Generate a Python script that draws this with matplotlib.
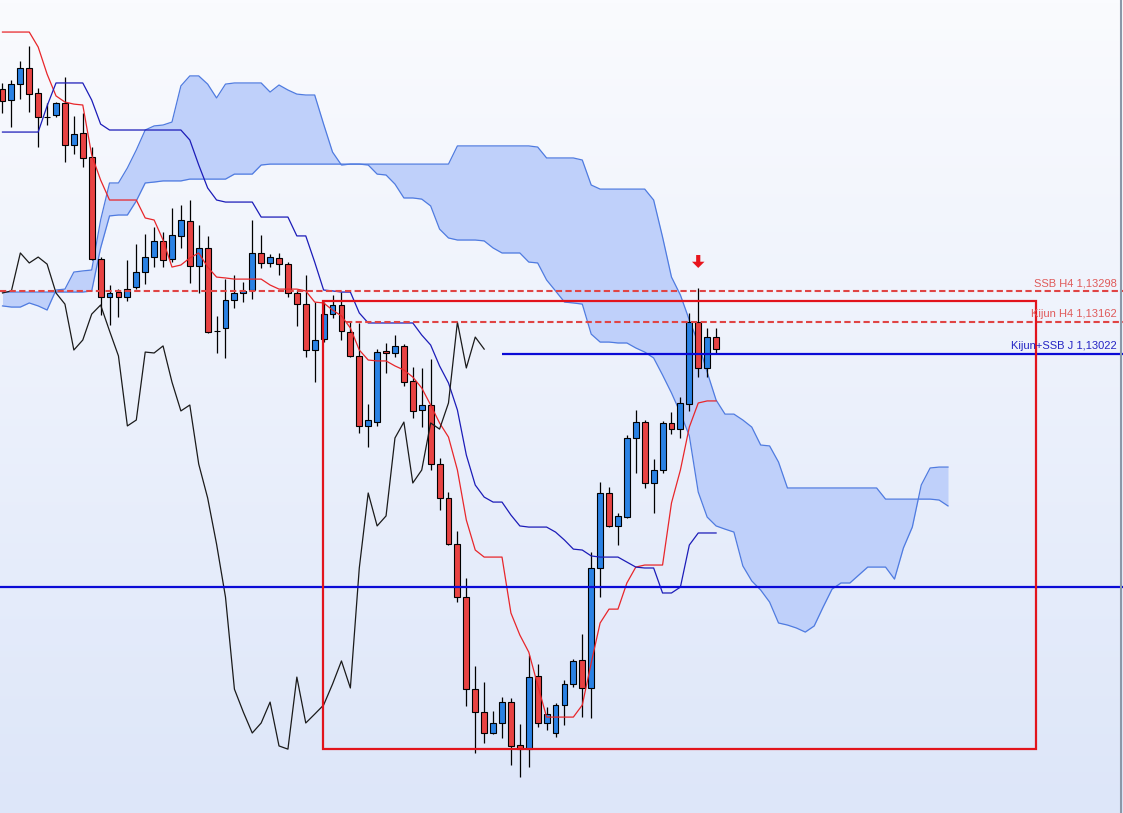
import numpy as np
import matplotlib.pyplot as plt
from matplotlib.colors import LinearSegmentedColormap
from matplotlib.patches import Rectangle

# candles (one per bar, oldest first)
opens = [1.14186, 1.14138, 1.14208, 1.14279, 1.14169, 1.14063, 1.14072, 1.14125, 1.13940, 1.13993,
         1.13887, 1.13438, 1.13271, 1.13293, 1.13271, 1.13315, 1.13381, 1.13447, 1.13518, 1.13438,
         1.13540, 1.13606, 1.13408, 1.13487, 1.13122, 1.13135, 1.13258, 1.13289, 1.13302, 1.13465,
         1.13421, 1.13443, 1.13416, 1.13289, 1.13240, 1.13038, 1.13086, 1.13196, 1.13236, 1.13117,
         1.13012, 1.12704, 1.12721, 1.13034, 1.13025, 1.13056, 1.12902, 1.12774, 1.12796, 1.12536,
         1.12387, 1.12184, 1.11951, 1.11546, 1.11445, 1.11353, 1.11397, 1.11489, 1.11300, 1.11282,
         1.11604, 1.11397, 1.11353, 1.11476, 1.11568, 1.11674, 1.11551, 1.12079, 1.12409, 1.12264,
         1.12303, 1.12651, 1.12721, 1.12453, 1.12510, 1.12717, 1.12690, 1.12800, 1.13161, 1.12959,
         1.13095]
highs = [1.14213, 1.14226, 1.14310, 1.14376, 1.14191, 1.14125, 1.14129, 1.14239, 1.14068, 1.14081,
         1.13931, 1.13447, 1.13324, 1.13306, 1.13434, 1.13504, 1.13548, 1.13579, 1.13557, 1.13663,
         1.13676, 1.13698, 1.13588, 1.13540, 1.13188, 1.13350, 1.13368, 1.13337, 1.13610, 1.13544,
         1.13460, 1.13465, 1.13425, 1.13302, 1.13368, 1.13249, 1.13249, 1.13280, 1.13293, 1.13161,
         1.13157, 1.12800, 1.13042, 1.13069, 1.13104, 1.13064, 1.12963, 1.12959, 1.12998, 1.12563,
         1.12413, 1.12242, 1.12035, 1.11648, 1.11577, 1.11450, 1.11511, 1.11507, 1.11392, 1.11696,
         1.11656, 1.11467, 1.11485, 1.11586, 1.11678, 1.11788, 1.12149, 1.12457, 1.12435, 1.12321,
         1.12664, 1.12774, 1.12730, 1.12558, 1.12726, 1.12765, 1.12831, 1.13201, 1.13311, 1.13135,
         1.13135]
lows = [1.14081, 1.14019, 1.14142, 1.14085, 1.13931, 1.14028, 1.14063, 1.13865, 1.13900, 1.13843,
        1.13434, 1.13192, 1.13148, 1.13183, 1.13254, 1.13306, 1.13328, 1.13403, 1.13403, 1.13425,
        1.13487, 1.13333, 1.13289, 1.13113, 1.13025, 1.13003, 1.13223, 1.13249, 1.13262, 1.13399,
        1.13403, 1.13368, 1.13271, 1.13144, 1.13007, 1.12897, 1.13073, 1.13179, 1.13082, 1.13007,
        1.12673, 1.12611, 1.12704, 1.12937, 1.13007, 1.12880, 1.12739, 1.12699, 1.12510, 1.12334,
        1.12180, 1.11929, 1.11472, 1.11265, 1.11309, 1.11348, 1.11331, 1.11212, 1.11159, 1.11203,
        1.11379, 1.11366, 1.11335, 1.11388, 1.11555, 1.11423, 1.11419, 1.11951, 1.12259, 1.12180,
        1.12299, 1.12497, 1.12431, 1.12321, 1.12497, 1.12668, 1.12651, 1.12770, 1.12919, 1.12919,
        1.13025]
closes = [1.14134, 1.14208, 1.14279, 1.14164, 1.14063, 1.14063, 1.14125, 1.13940, 1.13988, 1.13883,
          1.13438, 1.13271, 1.13289, 1.13271, 1.13306, 1.13381, 1.13447, 1.13518, 1.13434, 1.13544,
          1.13610, 1.13408, 1.13487, 1.13117, 1.13122, 1.13258, 1.13289, 1.13298, 1.13465, 1.13421,
          1.13447, 1.13416, 1.13289, 1.13240, 1.13038, 1.13082, 1.13196, 1.13236, 1.13122, 1.13012,
          1.12704, 1.12730, 1.13029, 1.13025, 1.13056, 1.12897, 1.12770, 1.12796, 1.12536, 1.12387,
          1.12184, 1.11951, 1.11546, 1.11445, 1.11353, 1.11397, 1.11489, 1.11296, 1.11282, 1.11599,
          1.11397, 1.11436, 1.11476, 1.11568, 1.11670, 1.11551, 1.12079, 1.12409, 1.12264, 1.12308,
          1.12651, 1.12721, 1.12453, 1.12510, 1.12717, 1.12690, 1.12805, 1.13161, 1.12959, 1.13095,
          1.13042]

# ichimoku lines
tenkan = ([1.14437] * 4
          + [1.14371, 1.14252, 1.14156, 1.14129, 1.14120, 1.14116, 1.13896, 1.13786]
          + [1.13698] * 4
          + [1.13619, 1.13610, 1.13522, 1.13403, 1.13412, 1.13443, 1.13465, 1.13403, 1.13359, 1.13355]
          + [1.13350] * 4
          + [1.13324, 1.13306, 1.13306, 1.13306, 1.13298, 1.13249, 1.13245, 1.13214, 1.13188, 1.13135,
             1.13038, 1.12994, 1.12990, 1.12990, 1.12968, 1.12950, 1.12919, 1.12871, 1.12796, 1.12717,
             1.12655, 1.12510, 1.12290, 1.12158]
          + [1.12127] * 3
          + [1.11881, 1.11784, 1.11709, 1.11564]
          + [1.11423] * 4
          + [1.11476, 1.11661, 1.11837, 1.11898, 1.11898, 1.12013, 1.12083]
          + [1.12092] * 3
          + [1.12365, 1.12510, 1.12699, 1.12805, 1.12814, 1.12814])

kijun = ([1.13997] * 5 + [1.14112] + [1.14213] * 4 + [1.14138, 1.14032]
         + [1.14006] * 9
         + [1.13962, 1.13852, 1.13751, 1.13698]
         + [1.13689] * 4 + [1.13623] * 4 + [1.13540] * 2
         + [1.13425, 1.13302, 1.13298, 1.13293, 1.13293, 1.13201]
         + [1.13157] * 6
         + [1.13104, 1.13060, 1.12968, 1.12893, 1.12774, 1.12576, 1.12444, 1.12391, 1.12369, 1.12369,
            1.12312, 1.12264, 1.12259, 1.12259, 1.12259, 1.12237, 1.12202, 1.12162, 1.12158, 1.12132,
            1.12127, 1.12127, 1.12127, 1.12105, 1.12083, 1.12079, 1.12079, 1.11969, 1.11969, 1.11995,
            1.12180, 1.12233, 1.12233, 1.12233])

# cloud, runs 26 bars past the last candle
span_a = [1.13232, 1.13227, 1.13227, 1.13245, 1.13232, 1.13214, 1.13302, 1.13306, 1.13381, 1.13386,
          1.13390, 1.13610, 1.13773, 1.13773, 1.13839, 1.13918, 1.14006, 1.14024, 1.14028, 1.14041,
          1.14200, 1.14244, 1.14244, 1.14208, 1.14147, 1.14208, 1.14213, 1.14213, 1.14213, 1.14213,
          1.14173, 1.14204, 1.14182, 1.14164, 1.14160, 1.14160, 1.14032, 1.13909, 1.13852, 1.13856,
          1.13856, 1.13852, 1.13812, 1.13808, 1.13768, 1.13707, 1.13707, 1.13702, 1.13672, 1.13570,
          1.13531, 1.13522, 1.13522, 1.13522, 1.13518, 1.13487, 1.13465, 1.13465, 1.13465, 1.13425,
          1.13421, 1.13346, 1.13298, 1.13249, 1.13245, 1.13240, 1.13108, 1.13073, 1.13073, 1.13069,
          1.13069, 1.13047, 1.13029, 1.13003, 1.12928, 1.12849, 1.12761, 1.12660, 1.12413, 1.12303,
          1.12264, 1.12250, 1.12237, 1.12088, 1.12022, 1.11982, 1.11929, 1.11837, 1.11828, 1.11815,
          1.11797, 1.11824, 1.11907, 1.11986, 1.12013, 1.12013, 1.12048, 1.12083, 1.12083, 1.12083,
          1.12030, 1.12167, 1.12259, 1.12444, 1.12519, 1.12523, 1.12523]
span_b = ([1.13293] * 10
          + [1.13298, 1.13487, 1.13628, 1.13632, 1.13632, 1.13694, 1.13773, 1.13777, 1.13782, 1.13782,
             1.13782, 1.13790, 1.13790, 1.13790, 1.13790, 1.13790, 1.13812, 1.13812, 1.13812, 1.13852]
          + [1.13856] * 21
          + [1.13936] * 9
          + [1.13931, 1.13883, 1.13883, 1.13883, 1.13883, 1.13874, 1.13764]
          + [1.13746] * 6
          + [1.13698, 1.13535, 1.13359, 1.13280, 1.13170, 1.13069, 1.12941, 1.12818, 1.12756, 1.12756,
             1.12730, 1.12699, 1.12620, 1.12616, 1.12545]
          + [1.12431] * 11
          + [1.12382] * 6
          + [1.12378, 1.12352])

chikou_shift = 26

# levels drawn by hand on the chart
ssb_h4 = 1.13298
kijun_h4 = 1.13162
kijun_ssb_j = 1.13022
daily_level = 1.11995
kijun_h4_start = 38.5
kijun_ssb_j_start = 56
box_left, box_right = 35.9, 115.9
box_top, box_bottom = 1.13254, 1.11282
arrow_bar = 78
arrow_tail, arrow_tip = 1.13456, 1.13399

xmin, xmax = -0.28, 125.62
ymin, ymax = 1.11001, 1.14578

fig = plt.figure(figsize=(11.23, 8.13), dpi=100)
ax = fig.add_axes([0, 0, 1, 1])
ax.set_xlim(xmin, xmax)
ax.set_ylim(ymin, ymax)
ax.axis('off')

# background gradient
bg = LinearSegmentedColormap.from_list('bg', ['#dde6f9', '#fafbfe'])
grad = np.linspace(0, 1, 256).reshape(-1, 1)
ax.imshow(grad, extent=[xmin, xmax, ymin, ymax], origin='lower', aspect='auto', cmap=bg, zorder=0)

# kumo
cx = np.arange(len(span_a))
ax.fill_between(cx, span_a, span_b, color='#bfd0fa', lw=0, zorder=1)
ax.plot(cx, span_a, color='#4f7be0', lw=0.9, zorder=2)
ax.plot(cx, span_b, color='#4f7be0', lw=0.9, zorder=2)

# candles
o = np.array(opens)
c = np.array(closes)
x = np.arange(len(o))
body_col = np.where(c > o, '#2a82e4', np.where(c < o, '#e84343', 'black'))
ax.vlines(x, lows, highs, color='black', lw=0.9, zorder=4)
ax.bar(x, np.abs(c - o), bottom=np.minimum(o, c), width=0.66, color=body_col,
       edgecolor='black', linewidth=0.8, zorder=5)

# tenkan, kijun, chikou
ax.plot(x, tenkan, color='#e8262a', lw=0.9, zorder=6)
ax.plot(x, kijun, color='#1c1cb8', lw=0.9, zorder=6)
ax.plot(x[:len(c) - chikou_shift], c[chikou_shift:], color='#1a1a1a', lw=0.9, zorder=6)

# levels
ax.axhline(ssb_h4, color='#e04444', lw=1.5, dashes=(3, 1.6), zorder=7)
ax.hlines(kijun_h4, kijun_h4_start, xmax, color='#e04444', lw=1.5, linestyles=(0, (3, 1.6)), zorder=7)
ax.hlines(kijun_ssb_j, kijun_ssb_j_start, xmax, color='#0a0ad6', lw=1.6, zorder=7)
ax.axhline(daily_level, color='#0a0ad6', lw=1.6, zorder=7)

ax.add_patch(Rectangle((box_left, box_bottom), box_right - box_left, box_top - box_bottom,
                       fill=False, ec='#e2141c', lw=1.6, zorder=8))

ax.annotate('', xy=(arrow_bar, arrow_tip), xytext=(arrow_bar, arrow_tail),
            arrowprops=dict(facecolor='#e8141c', edgecolor='none', width=3, headwidth=9, headlength=4.5),
            zorder=9)

lab_x = 124.95
lab = dict(textcoords='offset points', xytext=(0, 2), ha='right', va='bottom',
           fontsize=8, family='Liberation Sans', zorder=9)
ax.annotate('SSB H4 1,13298', xy=(lab_x, ssb_h4), color='#e05a5a', **lab)
ax.annotate('Kijun H4 1,13162', xy=(lab_x, kijun_h4), color='#e05a5a', **lab)
ax.annotate('Kijun+SSB J 1,13022', xy=(lab_x, kijun_ssb_j), color='#2424c4', **lab)

# right border of the chart window
ax.plot([0.9986, 0.9986], [0, 1], transform=ax.transAxes, color='#8a98a8', lw=1.5, zorder=10)

fig.savefig('out.png', dpi=100)
